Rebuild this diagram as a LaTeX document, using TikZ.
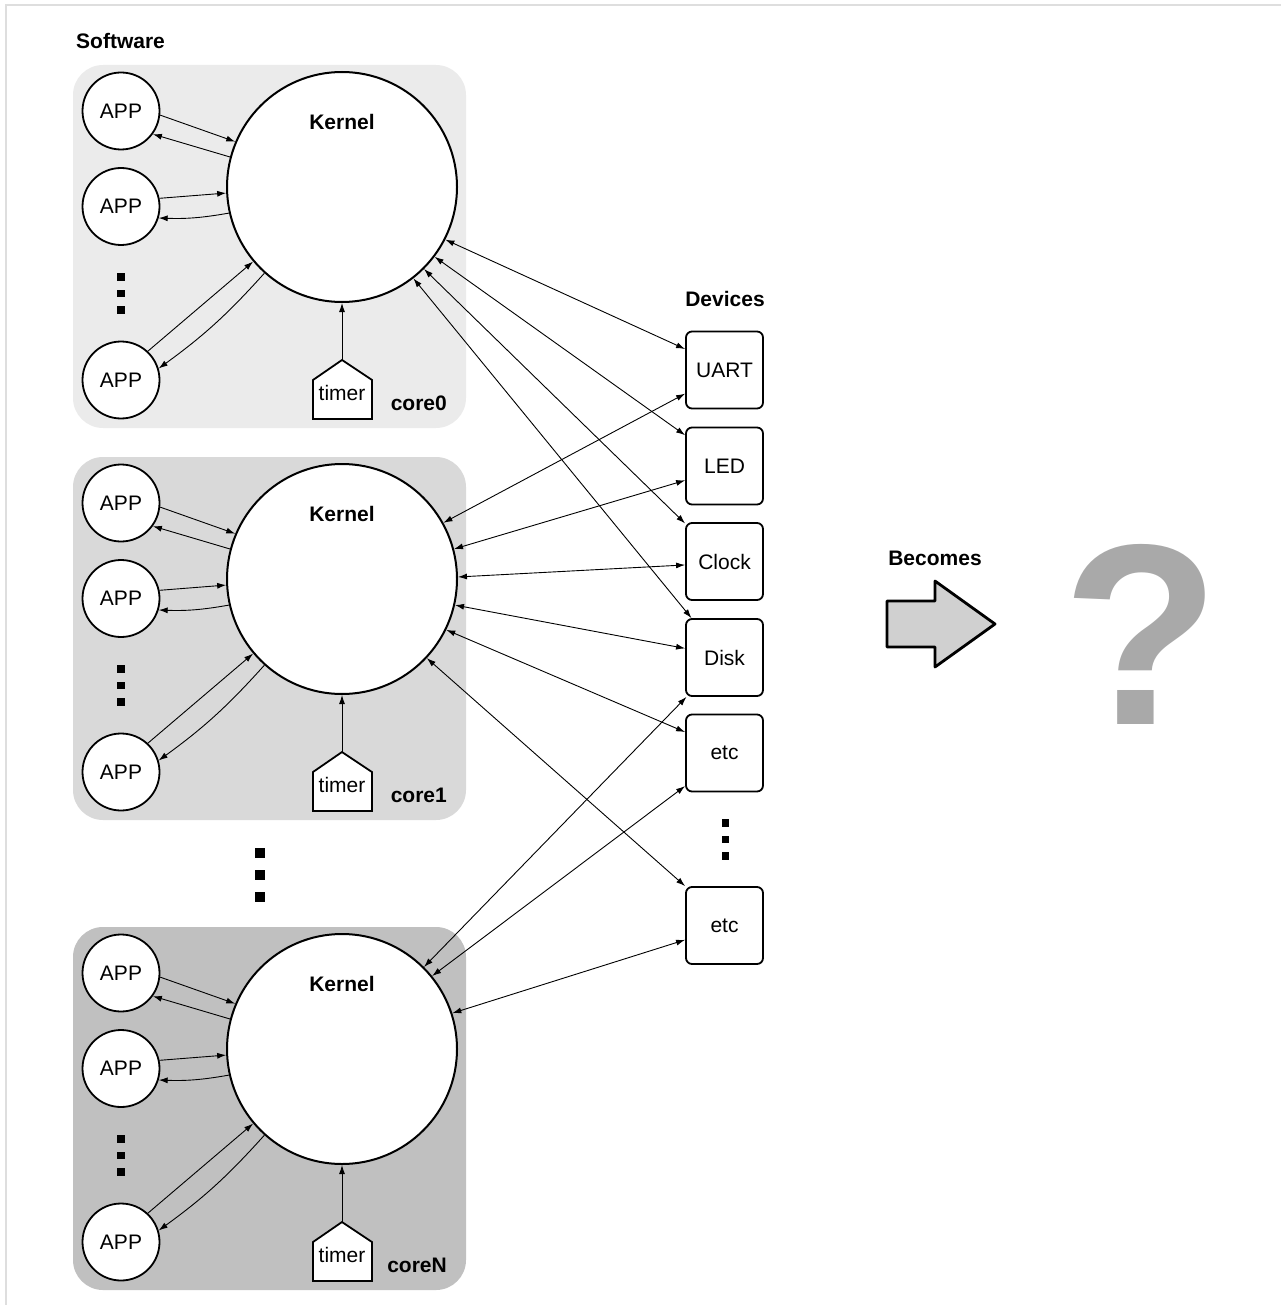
\documentclass[tikz,border=0pt]{standalone}
\usepackage{fontspec}
\setmainfont{Liberation Sans}
\usetikzlibrary{arrows.meta}
\definecolor{cz}{HTML}{EBEBEB}
\definecolor{co}{HTML}{D9D9D9}
\definecolor{cn}{HTML}{C0C0C0}
\definecolor{qgray}{HTML}{A9A9A9}
\definecolor{framegray}{HTML}{DEDEDE}
\definecolor{bfill}{HTML}{D0D0D0}
\begin{document}
\begin{tikzpicture}[x=1pt,y=-1pt,
  lbl/.style={font=\fontsize{21}{25}\selectfont\bfseries, inner sep=0},
  txt/.style={font=\fontsize{21}{25}\selectfont},
  app/.style={circle, draw, line width=1.8pt, fill=white, minimum size=77pt, inner sep=0, txt},
  kern/.style={circle, draw, line width=2pt, fill=white, minimum size=230pt, inner sep=0},
  dev/.style={rectangle, rounded corners=6pt, draw, line width=1.8pt, fill=white, minimum width=77pt, minimum height=77pt, inner sep=0, txt},
  conn/.style={line width=0.9pt, -{Latex[length=9pt,width=6pt]}},
  dconn/.style={line width=0.9pt, {Latex[length=9pt,width=6pt]}-{Latex[length=9pt,width=6pt]}},
  sq/.style={fill=black, minimum size=7.5pt, inner sep=0},
  bigsq/.style={fill=black, minimum size=10pt, inner sep=0},
]
\useasboundingbox (0,0) rectangle (1281,1305);
\draw[framegray, line width=2pt] (6,1305) -- (6,5) -- (1281,5);

\node[lbl, anchor=west] (sw) at (76,41) {Software};

\foreach \i/\oy/\col/\lab in {0/0/cz/core0, 1/392/co/core1, N/862/cn/coreN} {
 \begin{scope}[shift={(0,\oy)}]
  \fill[\col, rounded corners=30pt] (73,65) rectangle (466,428);
  \node[kern] (k\i) at (342,187) {};
  \node[lbl] (kl\i) at (342,122) {Kernel};
  \node[app] (a\i1) at (121,111) {APP};
  \node[app] (a\i2) at (121,206.5) {APP};
  \node[app] (a\i3) at (121,380) {APP};
  \node[sq] (d\i1) at (121,277) {};
  \node[sq] (d\i2) at (121,293.5) {};
  \node[sq] (d\i3) at (121,310) {};
  \draw[line width=1.8pt, fill=white, line join=miter] (313,419) -- (313,380) -- (342,360) -- (372,380) -- (372,419) -- cycle;
  \coordinate (tp\i) at (342,360);
  \node[txt, inner sep=0] (t\i) at (342,393) {timer};
  \node[lbl, anchor=east] (c\i) at (447,403) {\lab};
  \draw[conn] (tp\i) -- (k\i.south);
  \draw[conn] (a\i1.354) -- (k\i.157.6);
  \draw[conn] (k\i.165.7) -- (a\i1.324);
  \draw[conn] (a\i2.12) -- (k\i.183.5);
  \draw[conn] (k\i.193.3) to[bend left=6] (a\i2.343);
  \draw[conn] (a\i3.47) -- (k\i.220.9);
  \draw[conn] (k\i.228.8) to[bend left=6] (a\i3.17);
 \end{scope}
}

\node[bigsq] (m1) at (260,853) {};
\node[bigsq] (m2) at (260,875) {};
\node[bigsq] (m3) at (260,897) {};

\node[lbl] (devl) at (725,299) {Devices};
\node[dev] (uart) at (724.5,370) {UART};
\node[dev] (led) at (724.5,466) {LED};
\node[dev] (clock) at (724.5,561.5) {Clock};
\node[dev] (disk) at (724.5,657.5) {Disk};
\node[dev] (etc1) at (724.5,753) {etc};
\node[dev] (etc2) at (724.5,925.5) {etc};
\node[sq] (e1) at (725.5,823) {};
\node[sq] (e2) at (725.5,839.5) {};
\node[sq] (e3) at (725.5,856) {};

\draw[dconn] (k0.333.9) -- (uart.152.5);
\draw[dconn] (k0.323.1) -- (led.142);
\draw[dconn] (k0.315.7) -- (clock.136);
\draw[dconn] (k0.308.7) -- (disk.130);
\draw[dconn] (k1.29) -- (uart.211);
\draw[dconn] (k1.15.8) -- (led.200);
\draw[dconn] (k1.1.9) -- (clock.185);
\draw[dconn] (k1.347.6) -- (disk.167.6);
\draw[dconn] (k1.334.3) -- (etc1.152.5);
\draw[dconn] (k1.317.4) -- (etc2.135.5);
\draw[dconn] (kN.45.3) -- (disk.226);
\draw[dconn] (kN.39.3) -- (etc1.220.6);
\draw[dconn] (kN.18.6) -- (etc2.200.6);

\node[lbl] (bec) at (935,558) {Becomes};
\draw[line width=2.8pt, fill=bfill, line join=round] (887,601) -- (935,601) -- (935,581) -- (995,624) -- (935,667) -- (935,647) -- (887,647) -- cycle;

\node[text=qgray, font=\fontsize{258}{258}\selectfont\bfseries, inner sep=0] (q) at (1141,634) {?};
\end{tikzpicture}
\end{document}
